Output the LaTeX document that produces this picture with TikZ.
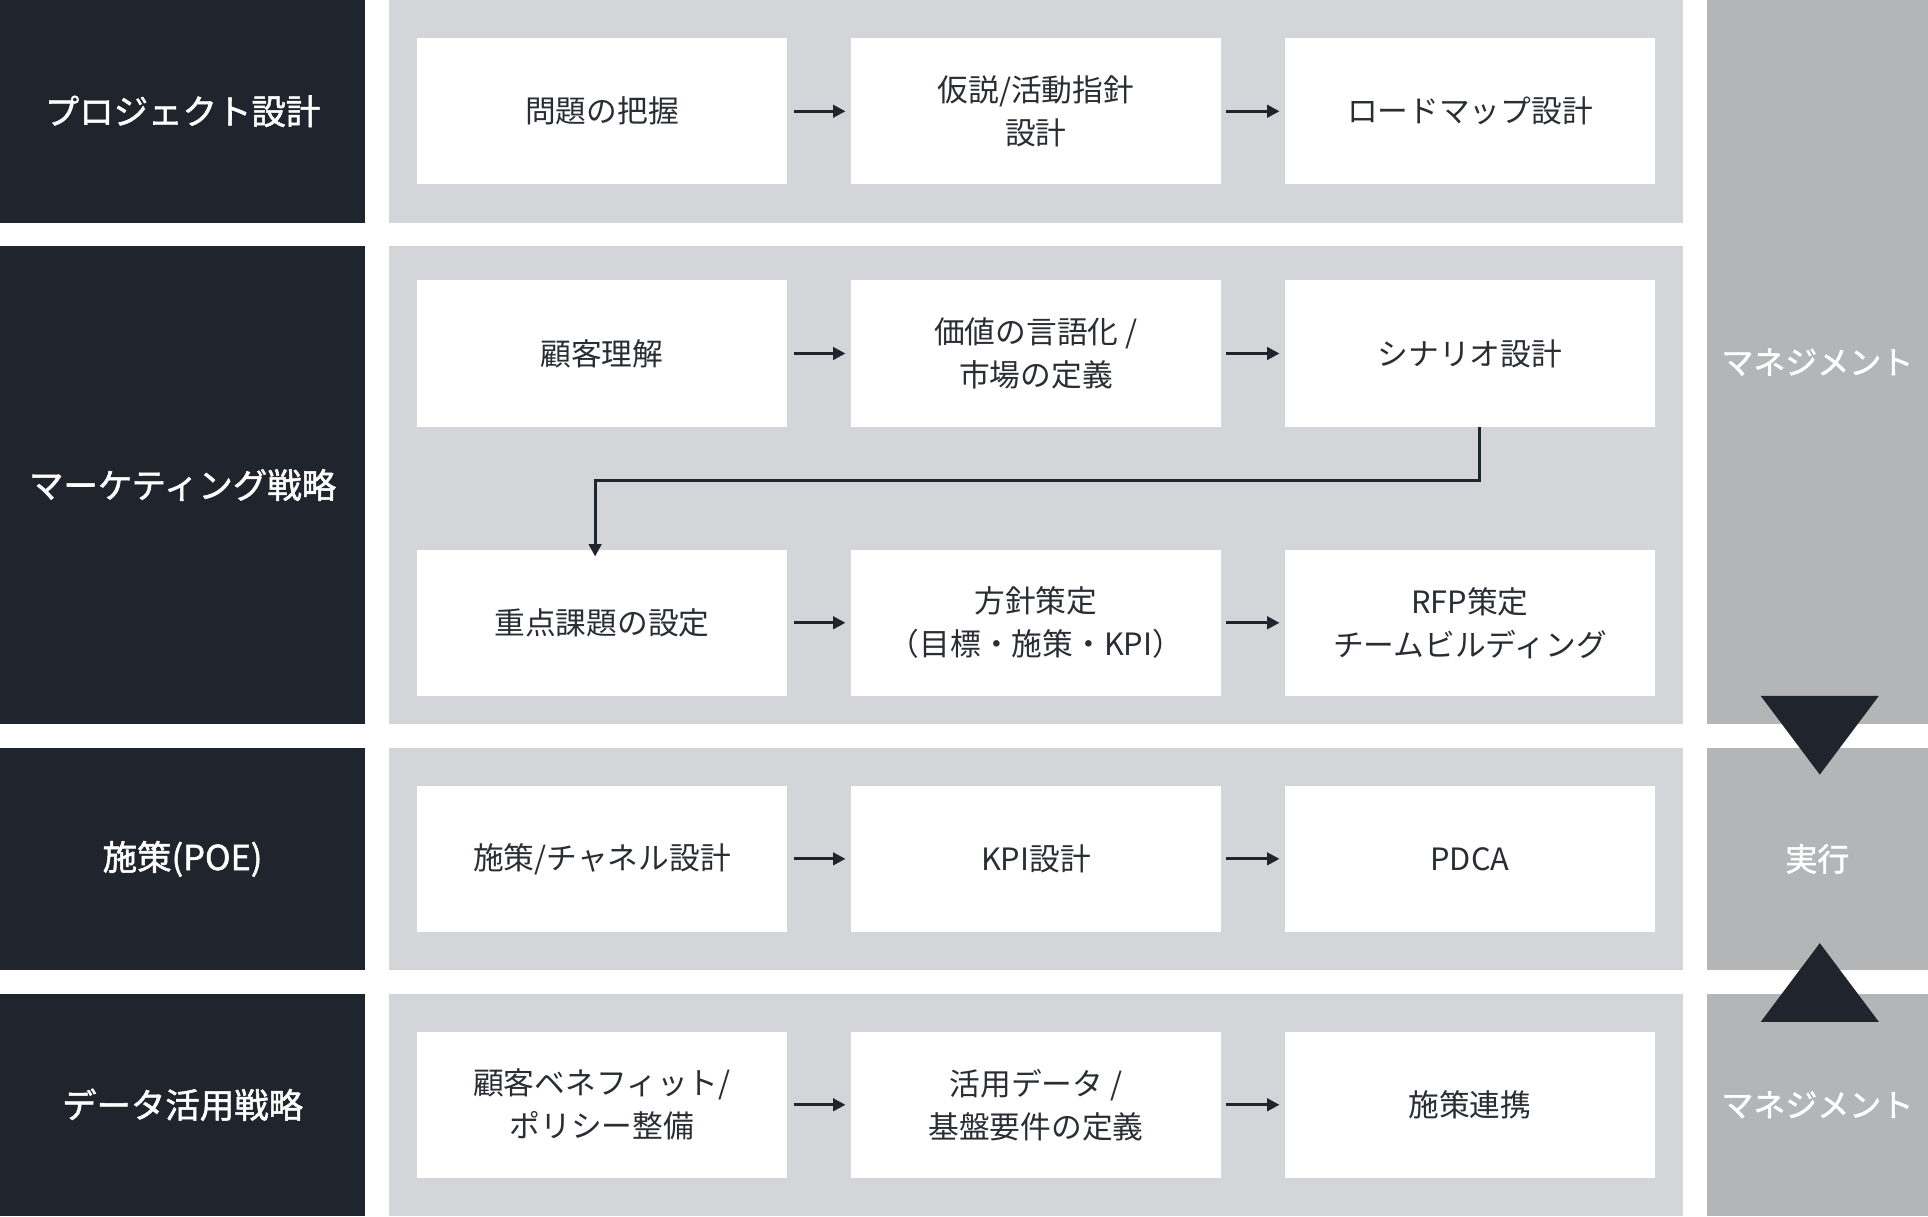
\documentclass[tikz,border=0pt]{standalone}
\usepackage{fontspec}
\setmainfont{Noto Sans CJK JP}
\newfontfamily\jpb{Noto Sans CJK JP}[FakeBold=1.5]
\usetikzlibrary{arrows.meta}
\definecolor{dark}{HTML}{20252D}
\definecolor{panel}{HTML}{D4D5D8}
\definecolor{side}{HTML}{B3B5B6}
\definecolor{txt}{HTML}{2A2D33}
\tikzset{
 wbox/.style={fill=white,draw=none,minimum width=150.5pt,minimum height=59.5pt,inner sep=0,align=center,text=txt,font=\fontsize{12.5}{17.5}\selectfont},
 lab/.style={text=white,font=\jpb\fontsize{14}{18}\selectfont},
 rlab/.style={text=white,font=\jpb\fontsize{13}{17}\selectfont},
 arr/.style={draw=dark,line width=1.2pt,-{Triangle[length=5pt,width=5pt]}},
}
\begin{document}
\begin{tikzpicture}[x=0.5pt,y=-0.5pt]
\useasboundingbox (0,0) rectangle (1568,989);
\fill[white] (0,0) rectangle (1568,989);
\foreach \a/\b in {0/181,200/589,608/789,808/989}{
 \fill[dark] (0,\a) rectangle (297,\b);
 \fill[panel] (316,\a) rectangle (1369,\b);}
\fill[side] (1388,0) rectangle (1568,589);
\fill[side] (1388,608) rectangle (1568,789);
\fill[side] (1388,808) rectangle (1568,989);
\fill[dark] (1432,566) -- (1528,566) -- (1480,630) -- cycle;
\fill[dark] (1432,831) -- (1528,831) -- (1480,767) -- cycle;
\node[lab] (l1) at (148.5,90.5) {プロジェクト設計};
\node[lab] (l2) at (148.5,394.5) {マーケティング戦略};
\node[lab] (l3) at (148.5,698.5) {施策(POE)};
\node[lab] (l4) at (148.5,898.5) {データ活用戦略};
\node[rlab] (r1) at (1478,294.5) {マネジメント};
\node[rlab] (r2) at (1478,698.5) {実行};
\node[rlab] (r3) at (1478,898.5) {マネジメント};
\node[wbox] (a1) at (489.5,90.5) {問題の把握};
\node[wbox] (a2) at (842.5,90.5) {仮説/活動指針\\設計};
\node[wbox] (a3) at (1195.5,90.5) {ロードマップ設計};
\node[wbox] (b1) at (489.5,287.5) {顧客理解};
\node[wbox] (b2) at (842.5,287.5) {価値の言語化 /\\市場の定義};
\node[wbox] (b3) at (1195.5,287.5) {シナリオ設計};
\node[wbox] (c1) at (489.5,506.5) {重点課題の設定};
\node[wbox] (c2) at (842.5,506.5) {方針策定\\（目標・施策・KPI）};
\node[wbox] (c3) at (1195.5,506.5) {RFP策定\\チームビルディング};
\node[wbox] (d1) at (489.5,698.5) {施策/チャネル設計};
\node[wbox] (d2) at (842.5,698.5) {KPI設計};
\node[wbox] (d3) at (1195.5,698.5) {PDCA};
\node[wbox] (e1) at (489.5,898.5) {顧客ベネフィット/\\ポリシー整備};
\node[wbox] (e2) at (842.5,898.5) {活用データ /\\基盤要件の定義};
\node[wbox] (e3) at (1195.5,898.5) {施策連携};
\foreach \r in {a,b,c,d,e}{
 \draw[arr] ([xshift=2.5pt]\r1.east) -- ([xshift=-2pt]\r2.west);
 \draw[arr] ([xshift=2pt]\r2.east) -- ([xshift=-2pt]\r3.west);}
\coordinate (k1) at (1203,391);
\coordinate (k2) at (484,391);
\draw[arr] (b3.south -| k1) -- (k1) -- (k2) -- ([yshift=-3pt]c1.north -| k2);
\end{tikzpicture}
\end{document}
